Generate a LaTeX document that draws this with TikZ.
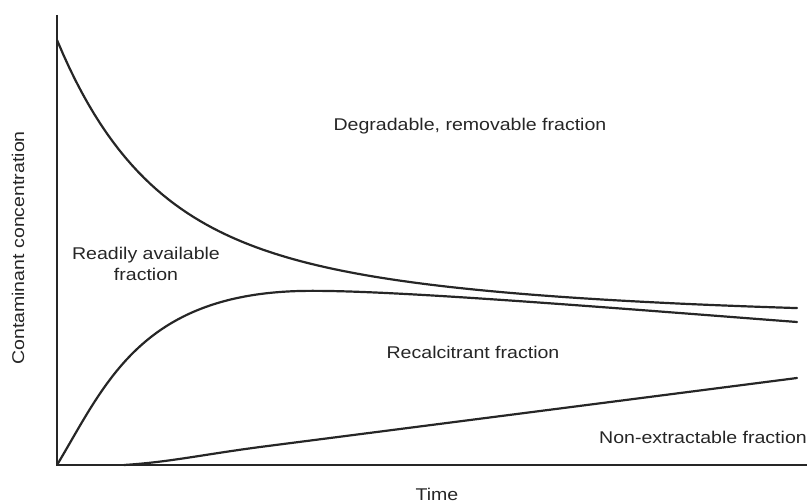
\documentclass[tikz,border=0pt]{standalone}
\usepackage{fontspec}
\setmainfont{Liberation Sans}[FakeStretch=1.15]
\begin{document}
\begin{tikzpicture}[x=1pt,y=-1pt,
    lbl/.style={font=\fontsize{17}{21}\selectfont,text=black!85,inner sep=0pt,align=center},
    axisline/.style={line width=2pt,black!85},
    curve/.style={line width=2.2pt,black!85,line join=round,line cap=round}]
  \useasboundingbox (0,0) rectangle (810,502);
  % axes
  \coordinate (O) at (57,465);
  \coordinate (ytop) at (57,15);
  \coordinate (xend) at (807,465);
  \draw[axisline] (ytop) -- (O) -- (xend);
  % total contaminant (decay)
  \draw[curve] plot[domain=57:797,samples=120]
    (\x,{318-178*exp(-(\x-57)/85)-100*exp(-(\x-57)/320)});
  % extractable boundary
  \coordinate (peak) at (300,291);
  \coordinate (rend) at (797,322);
  \draw[curve] (O) .. controls (105,385) and (140,295) .. (peak)
    .. controls (380,289) and (600,307) .. (rend);
  % non-extractable boundary
  \coordinate (nstart) at (124,465);
  \coordinate (nend) at (797,378);
  \draw[curve] (nstart) .. controls (170,462) and (200,455) .. (260,447) -- (nend);
  % labels
  \node[lbl] (degr) at (470,126) {Degradable, removable fraction};
  \node[lbl] (ready) at (146,264) {Readily available\\fraction};
  \node[lbl] (recal) at (473,352) {Recalcitrant fraction};
  \node[lbl] (nonex) at (703,437) {Non-extractable fraction};
  \node[lbl,anchor=base] (time) at (437,500) {Time};
  \node[lbl,rotate=90] (conc) at (18,248) {Contaminant concentration};
\end{tikzpicture}
\end{document}
